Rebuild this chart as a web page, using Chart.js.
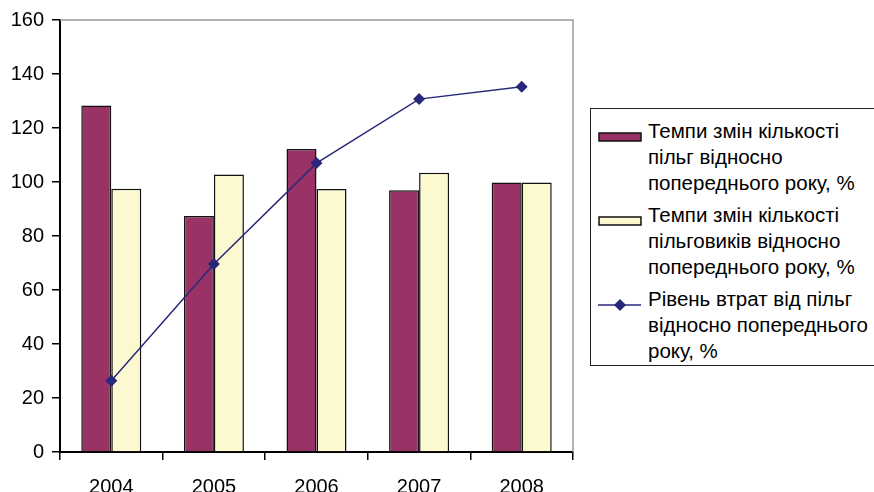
<!DOCTYPE html>
<html>
<head>
<meta charset="utf-8">
<script src="https://cdn.jsdelivr.net/npm/chart.js@4"></script>
<style>
  body { margin: 0; background: #fff; }
  #wrap { position: relative; width: 874px; height: 492px; overflow: hidden; }
  #legend {
    position: absolute; left: 590px; top: 108px; width: 300px; height: 258px;
    border: 1px solid #222; box-sizing: border-box; background: #fff;
    font-family: Arial, "Liberation Sans", sans-serif; font-size: 20.5px; color: #000;
  }
  .item { position: absolute; left: 57px; line-height: 26px; white-space: nowrap; }
  .mark { position: absolute; left: 7px; }
</style>
</head>
<body>
<div id="wrap">
  <canvas id="chart" width="874" height="492"></canvas>
  <div id="legend"></div>
</div>
<script>
const years = ['2004', '2005', '2006', '2007', '2008']
const benefitsRate = [128.3, 87.4, 112.2, 96.9, 99.8]
const beneficiariesRate = [97.5, 102.8, 97.4, 103.4, 99.8]
const lossesRate = [26.4, 69.6, 107.0, 130.7, 135.3]

const seriesNames = [
  ['Темпи змін кількості', 'пільг відносно', 'попереднього року, %'],
  ['Темпи змін кількості', 'пільговиків відносно', 'попереднього року, %'],
  ['Рівень втрат від пільг', 'відносно попереднього', 'року, %']
]

const maroon = '#993366'
const cream = '#FCF8CF'
const navy = '#28287A'
const font = { family: 'Arial, "Liberation Sans", sans-serif', size: 20 }

// gray frame on top and right of plot area
const frame = {
  id: 'frame',
  beforeDatasetsDraw(chart) {
    const a = chart.chartArea
    const c = chart.ctx
    c.save()
    c.strokeStyle = '#999'
    c.lineWidth = 1.5
    c.beginPath()
    c.moveTo(a.left, a.top)
    c.lineTo(a.right, a.top)
    c.lineTo(a.right, a.bottom)
    c.stroke()
    c.restore()
  }
}

const ctx = document.getElementById('chart').getContext('2d')
new Chart(ctx, {
  type: 'bar',
  data: {
    labels: years,
    datasets: [
      {
        type: 'line',
        label: seriesNames[2].join(' '),
        data: lossesRate,
        borderColor: navy,
        backgroundColor: navy,
        borderWidth: 1.5,
        pointStyle: 'rectRot',
        pointRadius: 6,
        pointBorderWidth: 0,
        tension: 0,
        order: 0
      },
      {
        label: seriesNames[0].join(' '),
        data: benefitsRate,
        backgroundColor: maroon,
        borderColor: '#111',
        borderWidth: 1.5,
        order: 1
      },
      {
        label: seriesNames[1].join(' '),
        data: beneficiariesRate,
        backgroundColor: cream,
        borderColor: '#111',
        borderWidth: 1.5,
        order: 2
      }
    ]
  },
  options: {
    responsive: false,
    animation: false,
    datasets: { bar: { barPercentage: 1, categoryPercentage: 0.585 } },
    layout: { padding: { top: 20, right: 301, left: 0, bottom: 0 } },
    plugins: { legend: { display: false }, tooltip: { enabled: false } },
    scales: {
      x: {
        offset: true,
        afterFit: (s) => { s.height = 40 },
        grid: { offset: true, drawOnChartArea: false, color: '#000', tickLength: 8, lineWidth: 1.5 },
        border: { color: '#000', width: 2 },
        ticks: { color: '#000', font: font, padding: 15 }
      },
      y: {
        min: 0,
        max: 160,
        afterFit: (s) => { s.width = 60 },
        grid: { drawOnChartArea: false, color: '#000', tickLength: 8, lineWidth: 1.5 },
        border: { color: '#000', width: 2 },
        ticks: { stepSize: 20, color: '#000', font: font, padding: 8 }
      }
    }
  },
  plugins: [frame]
})

// legend built from the same names and colours
const legend = document.getElementById('legend')
const tops = [9, 93, 177]
seriesNames.forEach((lines, i) => {
  const item = document.createElement('div')
  item.className = 'item'
  item.style.top = tops[i] + 'px'
  item.innerHTML = lines.join('<br>')
  legend.appendChild(item)

  const mark = document.createElement('div')
  mark.className = 'mark'
  mark.style.top = (tops[i] + 7) + 'px'
  if (i < 2) {
    mark.innerHTML = `<svg width="44" height="14"><rect x="1" y="3" width="42" height="8" fill="${i === 0 ? maroon : cream}" stroke="#111" stroke-width="1.5"/></svg>`
  } else {
    mark.innerHTML = `<svg width="44" height="14"><line x1="0" y1="7" x2="43" y2="7" stroke="${navy}" stroke-width="1.5"/><polygon points="22,1 28,7 22,13 16,7" fill="${navy}"/></svg>`
  }
  legend.appendChild(mark)
})
</script>
</body>
</html>
